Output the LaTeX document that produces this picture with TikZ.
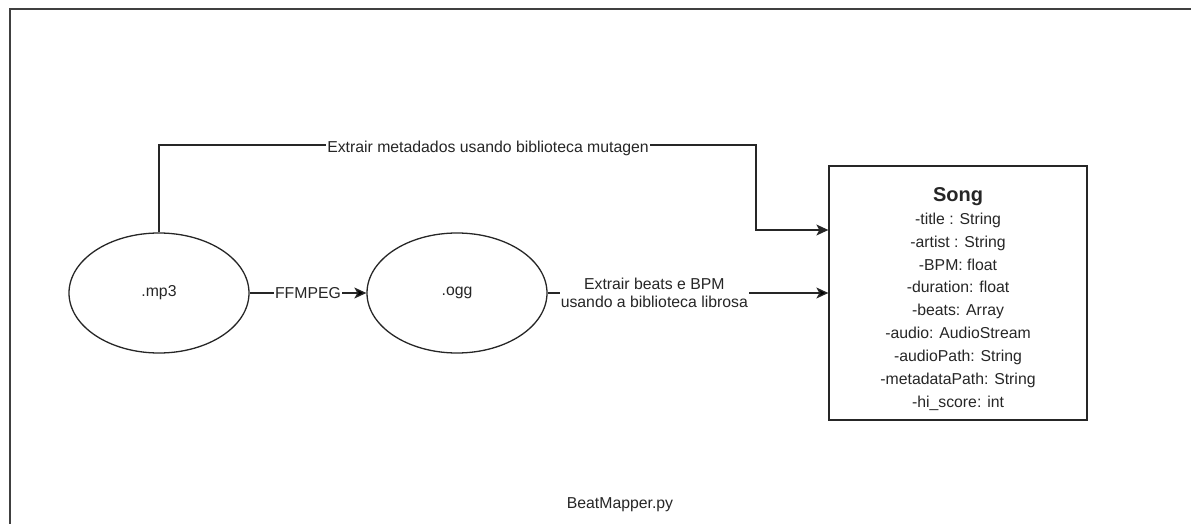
\documentclass[tikz,border=0pt]{standalone}
\usepackage{fontspec}
\setmainfont{Liberation Sans}
\usetikzlibrary{shapes.geometric,arrows.meta}

\begin{document}
\begin{tikzpicture}[x=1pt,y=-1pt,font=\fontsize{15.8}{18.6}\selectfont,text=black!85]
        \tikzstyle{format}=[ellipse,draw=black!85,line width=1.3pt,minimum width=180pt,minimum height=120pt,inner sep=0pt]
        \tikzstyle{klass}=[rectangle,draw=black!85,line width=1.3pt,minimum width=258pt,minimum height=254pt]
        \tikzstyle{fields}=[align=center,font=\fontsize{15.8}{22.9}\selectfont]
        \tikzstyle{edge}=[draw=black!85,line width=1.3pt,-{Stealth[length=12pt,width=11pt,inset=3pt]}]
        \tikzstyle{tag}=[fill=white,inner sep=1pt,align=center]
        \useasboundingbox (0,0) rectangle (1191,524);
        % outer frame, only top and left show
        \draw[black!75,line width=2pt] (10,524) -- (10,9) -- (1191,9);
       \begin{scope}
         \node [format] (mp3) at (159,293) {.mp3};
         \node [format] (ogg) at (457,293) {.ogg};
         \node [klass] (song) at (958,293) {};
         \node [fields] (attrs) at (958,299) {{\fontsize{20}{22.9}\selectfont\bfseries Song}\\
           -title : String\\ -artist : String\\ -BPM: float\\ -duration: float\\
           -beats: Array\\ -audio: AudioStream\\ -audioPath: String\\
           -metadataPath: String\\ -hi\_score: int};
         \coordinate (top) at (756,145);
         \coordinate (bend) at (756,230);
         \path[edge] (mp3) edge node[tag] (conv) {FFMPEG} (ogg);
         \path[edge] (ogg) edge node[tag,pos=0.38] (beats) {Extrair beats e BPM\\usando a biblioteca librosa} (song);
         \path[edge] (mp3.north) |- (top) -- (bend) -- (bend -| song.west);
         \node [tag] (meta) at (488,148) {Extrair metadados usando biblioteca mutagen};
        \end{scope}
        \node (file) at (620,505) {BeatMapper.py};
      \end{tikzpicture}
\end{document}
